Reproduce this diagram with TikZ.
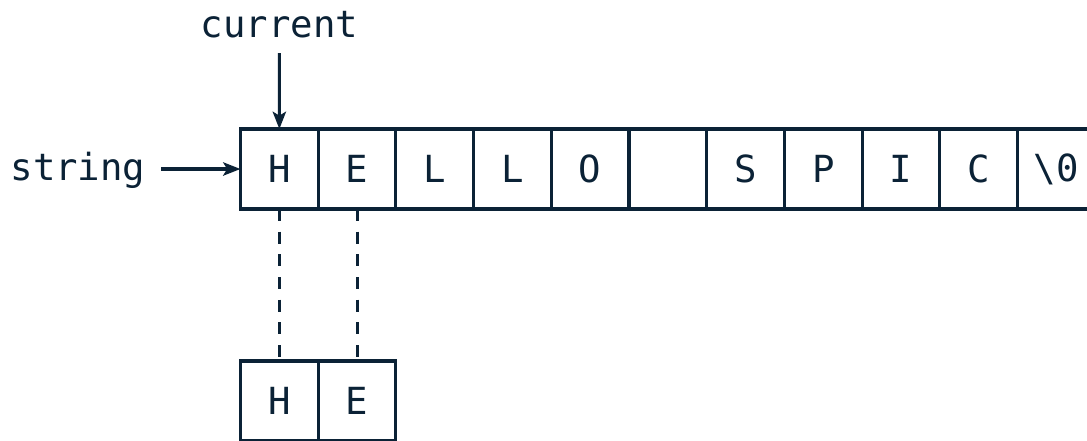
\documentclass[tikz,border=0pt]{standalone}
\usepackage{fontspec}
\setmonofont{DejaVu Sans Mono}
\usetikzlibrary{arrows.meta,positioning}
\definecolor{SPink}{HTML}{0B2236}

\begin{document}
\begin{tikzpicture}[
  x=0.75pt,y=-0.75pt,
  font=\fontsize{28}{34}\selectfont\ttfamily,
  line cap=butt,line join=miter,
  cell/.style={draw=SPink,line width=2.3pt,minimum width=58.3pt,minimum height=60pt,
    inner sep=0pt,outer sep=0pt,text=SPink},
  ptr/.style={draw=SPink,line width=2.3pt,-{Stealth[length=13pt,width=10pt,inset=3pt]}},
  link/.style={draw=SPink,line width=2.2pt,dash pattern=on 9pt off 8pt},
  tag/.style={text=SPink,anchor=base,inner sep=11.5pt}
]
\useasboundingbox (0,0) rectangle (1087,440);

% string cells
\foreach \ch [count=\i from 0] in {H,E,L,L,O,{},S,P,I,C,\textbackslash 0}{
  \node[cell] (s\i) at (240.5+77.7*\i+38.85,169) {\ch};
}

% copied cells below
\node[cell] (t0) at (s0 |- 0,401) {H};
\node[cell] (t1) at (s1 |- 0,401) {E};

\node[tag] (current) at (279.4,37) {current};
\node[tag] (string) at (78,180) {string};

\draw[ptr] (current.south) -- (s0.north);
\draw[ptr] (string.east |- s0.west) -- (s0.west);

\draw[link] (s0.south) -- (t0.north);
\draw[link] (s1.south) -- (t1.north);

\end{tikzpicture}
\end{document}
